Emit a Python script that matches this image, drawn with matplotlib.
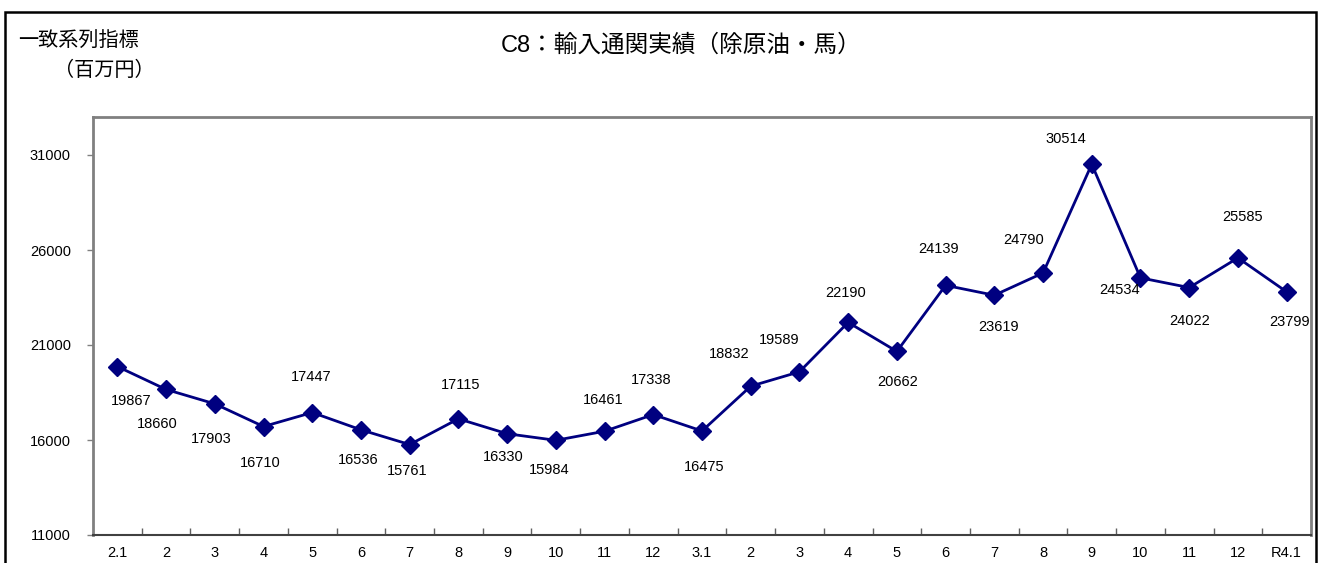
import matplotlib.pyplot as plt
import matplotlib.patches as patches
from matplotlib.ticker import FixedLocator, NullFormatter

plt.rcParams['font.family'] = ['Liberation Sans', 'Noto Sans CJK JP', 'DejaVu Sans']

# 月のラベルと値（百万円）
months = ['2.1', '2', '3', '4', '5', '6', '7', '8', '9', '10', '11', '12',
          '3.1', '2', '3', '4', '5', '6', '7', '8', '9', '10', '11', '12', 'R4.1']
values = [19867, 18660, 17903, 16710, 17447, 16536, 15761, 17115, 16330, 15984,
          16461, 17338, 16475, 18832, 19589, 22190, 20662, 24139, 23619, 24790,
          30514, 24534, 24022, 25585, 23799]

# データラベルのずらし量（ピクセル, 右/下が正）
label_dx = [14, -9, -4, -3, -1, -3, -2, 2, -4, -7, -1, -2, 2, -22, -20, -3,
            1, -7, 4, -19, -26, -21, 0, 5, 3]
label_dy = [34, 35, 35, 36, -36, 30, 26, -34, 23, 30, -31, -35, 36, -32, -32,
            -29, 31, -36, 32, -33, -25, 12, 33, -41, 30]

W, H = 1319, 563
fig = plt.figure(figsize=(W / 100, H / 100), dpi=100)

# 外枠
fig.patches.append(patches.Rectangle((5 / W, -0.2), 1311 / W, 1 - 12 / H + 0.2,
                                     transform=fig.transFigure, fill=False,
                                     edgecolor='black', linewidth=1.8))

ax = fig.add_axes([93 / W, 1 - 535 / H, (1311 - 93) / W, (535 - 117) / H])
x = list(range(len(values)))
ax.plot(x, values, color='#000080', linewidth=2.0, marker='D', markersize=9,
        zorder=3)

for i, v in enumerate(values):
    ax.annotate(str(v), (i, v), xytext=(label_dx[i] * 0.72, -label_dy[i] * 0.72),
                textcoords='offset points', ha='center', va='center',
                fontsize=10.5, color='black')

ax.set_xlim(-0.5, len(values) - 0.5)
ax.set_ylim(11000, 33000)
ax.set_yticks([11000, 16000, 21000, 26000, 31000])
ax.tick_params(axis='y', direction='out', length=4, width=1, color='#808080',
               labelsize=10.5, pad=12)
ax.set_xticks(x)
ax.set_xticklabels(months)
ax.tick_params(axis='x', which='major', length=0, labelsize=10.5, pad=8)
ax.xaxis.set_minor_locator(FixedLocator([i + 0.5 for i in range(len(values) - 1)]))
ax.xaxis.set_minor_formatter(NullFormatter())
ax.tick_params(axis='x', which='minor', direction='in', length=5, width=1,
               color='#606060')

for side in ['left', 'top', 'right']:
    ax.spines[side].set_color('#808080')
    ax.spines[side].set_linewidth(2)
ax.spines['bottom'].set_color('#404040')
ax.spines['bottom'].set_linewidth(1.5)

fig.text(681 / W, 1 - 45 / H, 'C8：輸入通関実績（除原油・馬）', ha='center',
         va='center', fontsize=17)
fig.text(18 / W, 1 - 40 / H, '一致系列指標', ha='left', va='center', fontsize=14.5)
fig.text(155 / W, 1 - 70 / H, '（百万円）', ha='right', va='center', fontsize=14.5)

fig.savefig('out.png', dpi=100)
